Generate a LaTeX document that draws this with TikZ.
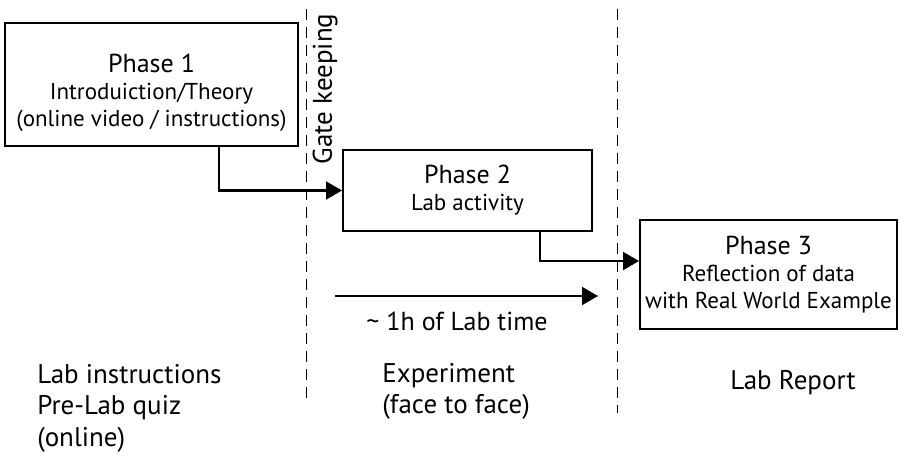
\documentclass[tikz,border=0pt]{standalone}
\usepackage{fontspec}
\setmainfont{PT Sans}
\usetikzlibrary{arrows.meta,positioning,calc}
\tikzset{every picture/.style={line width=0.75pt}}
\tikzset{
  phasebox/.style={draw,line width=2pt,align=center,inner sep=0pt,
    font=\fontsize{23}{27}\selectfont},
  flow/.style={line width=2pt,-{Triangle[length=16pt,width=18pt]}},
  divider/.style={line width=1pt,dash pattern=on 11pt off 7pt},
  caption/.style={align=left,anchor=north west,inner sep=0pt,
    font=\fontsize{27}{31.5}\selectfont},
}
\newcommand{\phasename}[1]{{\fontsize{26}{30}\selectfont #1}}

\begin{document}
\begin{tikzpicture}[x=1pt,y=-1pt]
    \useasboundingbox (0,0) rectangle (904,457);

    % separators between the three stages
    \coordinate (gtop) at (306,9);   \coordinate (gbot) at (306,398);
    \coordinate (rtop) at (617,9);   \coordinate (rbot) at (617,413);
    \draw[divider] (gtop) -- (gbot);
    \draw[divider] (rtop) -- (rbot);
    \node[rotate=90,font=\fontsize{27}{30}\selectfont,inner sep=0pt] (gate) at (325,89) {Gate keeping};

    % phase boxes
    \node[phasebox,minimum width=293pt,minimum height=123pt] (p1) at (151.5,84.5)
        {\phasename{\rule{0pt}{36pt}Phase 1}\\Introduiction/Theory\\(online video / instructions)};
    \node[phasebox,minimum width=249pt,minimum height=81pt] (p2) at (467.5,190.5)
        {\phasename{Phase 2}\\Lab activity};
    \node[phasebox,minimum width=257pt,minimum height=109pt] (p3) at (768.5,274.5)
        {\phasename{Phase 3}\\Reflection of data\\with Real World Example};

    \draw[flow] ([xshift=67.5pt]p1.south) |- (p2.west);
    \coordinate (p3in) at ([yshift=13.5pt]p3.west);
    \draw[flow] ([xshift=72.5pt]p2.south) |- (p3in);

    % lab time
    \coordinate (t0) at (335,296);
    \coordinate (t1) at (598,296);
    \draw[flow] (t0) -- (t1);
    \node[font=\fontsize{26}{30}\selectfont,anchor=base] (labtime) at (457,330) {\textasciitilde{} 1h of Lab time};

    % what happens in each stage
    \node[caption] (online) at (37,361) {\strut Lab instructions\\Pre-Lab quiz\\(online)};
    \node[caption] (exp) at (382,360) {\strut Experiment\\(face to face)};
    \node[caption] (report) at (730,367) {\strut Lab Report};
\end{tikzpicture}
\end{document}
